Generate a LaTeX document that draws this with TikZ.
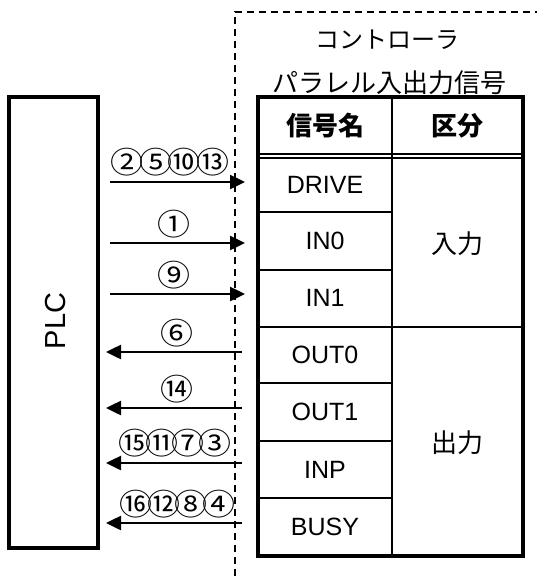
\documentclass[tikz,border=0pt]{standalone}
\usepackage{fontspec}
\setmainfont{Liberation Sans}
\newfontfamily\jp{Noto Sans CJK JP}
\newfontfamily\jpc[FakeStretch=1.1]{Noto Sans CJK JP}
\usetikzlibrary{arrows.meta}
\newcommand{\cna}[1]{\makebox[28.5pt]{#1}}
\newcommand{\cnb}[1]{\makebox[26.5pt]{#1}}
\newcommand{\cnc}[1]{\makebox[27.75pt]{#1}}
\tikzset{
  lat/.style={inner sep=0pt, font=\fontsize{25}{28}\selectfont},
  jpt/.style={inner sep=0pt, font=\jp\fontsize{26}{28}\selectfont},
  num/.style={inner sep=0pt, font=\jpc\fontsize{30}{32}\selectfont},
  sig/.style={line width=2.5pt, -{Triangle[length=15pt,width=14pt]}},
  thinrule/.style={line width=2pt},
}
\begin{document}
\begin{tikzpicture}[x=1pt,y=-1pt]
\useasboundingbox (0,0) rectangle (537,576);
\fill[white] (0,0) rectangle (537,576);
% controller boundary
\coordinate (db) at (235,576);
\coordinate (dc) at (235,12);
\coordinate (dr) at (537,12);
\draw[line width=1.5pt, dash pattern=on 7pt off 5pt] (db) -- (dc) -- (dr);
% PLC
\node[draw, line width=3.5pt, minimum width=89pt, minimum height=451pt, inner sep=0pt] (plc) at (53.5,322.5) {};
\node[rotate=90, inner sep=0pt, font=\fontsize{29}{30}\selectfont] (plclabel) at (56,321) {PLC};
% titles
\node[jpt, font=\jp\fontsize{24}{26}\selectfont] (ctrl) at (387,40) {コントローラ};
\node[jpt] (par) at (389,83) {パラレル入出力信号};
% table
\draw[line width=3.5pt] (258,97) rectangle (523,556);
\draw[line width=2.5pt] (392,97) -- (392,556);
\draw[line width=1.5pt] (258,154) -- (523,154);
\draw[line width=1.5pt] (258,158) -- (523,158);
\draw[thinrule] (258,212) -- (392,212);
\draw[thinrule] (258,270) -- (392,270);
\draw[line width=2.5pt] (258,327) -- (523,327);
\draw[thinrule] (258,383) -- (392,383);
\draw[thinrule] (258,441) -- (392,441);
\draw[thinrule] (258,498) -- (392,498);
\node[jpt, font=\jp\bfseries\fontsize{26}{28}\selectfont] (h1) at (325,126) {信号名};
\node[jpt, font=\jp\bfseries\fontsize{26}{28}\selectfont] (h2) at (457,126) {区分};
\node[lat] (drive) at (325,185) {DRIVE};
\node[lat] (in0) at (325,241) {IN0};
\node[lat] (in1) at (325,298) {IN1};
\node[lat] (out0) at (325,355) {OUT0};
\node[lat] (out1) at (325,412) {OUT1};
\node[lat] (inp) at (325,470) {INP};
\node[lat] (busy) at (325,527) {BUSY};
\node[jpt] (kin) at (457,244) {入力};
\node[jpt] (kout) at (457,443) {出力};
% signal arrows
\coordinate (s1a) at (110,182); \coordinate (s1b) at (245,182);
\coordinate (s2a) at (110,243); \coordinate (s2b) at (245,243);
\coordinate (s3a) at (110,294); \coordinate (s3b) at (245,294);
\coordinate (s4a) at (242,352); \coordinate (s4b) at (106,352);
\coordinate (s5a) at (242,408); \coordinate (s5b) at (106,408);
\coordinate (s6a) at (242,463); \coordinate (s6b) at (106,463);
\coordinate (s7a) at (242,523); \coordinate (s7b) at (106,523);
\draw[sig] (s1a) -- (s1b);
\draw[sig] (s2a) -- (s2b);
\draw[sig] (s3a) -- (s3b);
\draw[sig] (s4a) -- (s4b);
\draw[sig] (s5a) -- (s5b);
\draw[sig] (s6a) -- (s6b);
\draw[sig] (s7a) -- (s7b);
\node[num] (l1) at (170,162) {\cna{②}\cna{⑤}\cna{⑩}\cna{⑬}};
\node[num] (l2) at (174,224) {①};
\node[num] (l3) at (174,275) {⑨};
\node[num] (l4) at (177,333) {⑥};
\node[num] (l5) at (177,389) {⑭};
\node[num] (l6) at (175,443) {\cnb{⑮}\cnb{⑪}\cnb{⑦}\cnb{③}};
\node[num] (l7) at (177.5,504) {\cnc{⑯}\cnc{⑫}\cnc{⑧}\cnc{④}};
\end{tikzpicture}
\end{document}
